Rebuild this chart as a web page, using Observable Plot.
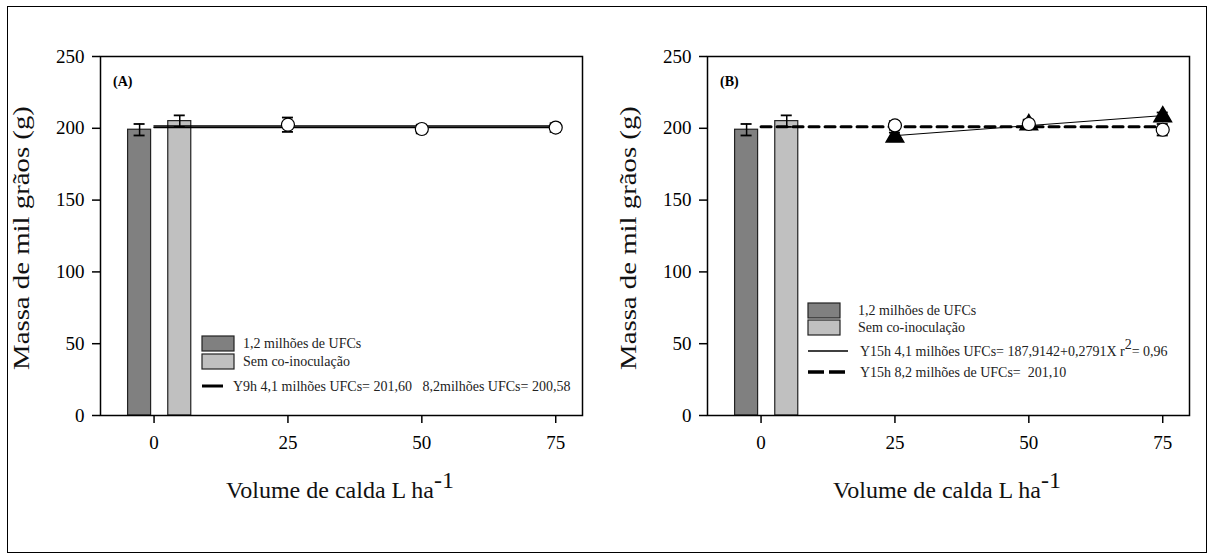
<!DOCTYPE html>
<html><head><meta charset="utf-8">
<script src="https://cdn.jsdelivr.net/npm/d3@7"></script>
<script src="https://cdn.jsdelivr.net/npm/@observablehq/plot@0.6"></script>
<style>
html,body{margin:0;padding:0;background:#fff;}
#wrap{position:relative;width:1214px;height:559px;overflow:hidden;}
#border{position:absolute;left:7px;top:6px;width:1200px;height:547px;border:1.5px solid #000;box-sizing:border-box;}
#pa,#pb{position:absolute;top:0;}
#pa{left:0px} #pb{left:607px}
#wrap svg, #wrap svg text, #wrap svg tspan{font-family:"Liberation Serif","Times New Roman",serif !important;}
</style></head><body>
<div id="wrap"><div id="border"></div><div id="pa"></div><div id="pb"></div></div>
<script>
// ---- data ----
const volumes = [25, 50, 75];
const volumeTicks = [0, 25, 50, 75];
const massTicks = [0, 50, 100, 150, 200, 250];
const barNames = ["1,2 milhões de UFCs", "Sem co-inoculação"];
const barMass = [199, 205];
const barErr = [4, 4];
const barCenter = [-2.7, 4.8];
const barFill = ["#808080", "#c0c0c0"];

// panel A
const aOpen = [202.5, 199.5, 200.5];
const aOpenErr = [5, 3, 3];
const aFits = [201.60, 200.58];
const fitRange = [0, 75];

// panel B
const bOpen = [202, 203, 199];
const bOpenErr = [3, 3, 4];
const bTri = [194, 202.5, 208];
const bTriErr = [3, 3, 3];
const bRegA = 187.9142, bRegB = 0.2791;
const bRegRange = [25, 75];
const bMean = 201.10;

const SERIF = '"Liberation Serif", "Times New Roman", serif';
const bars = barNames.map((n, i) => ({name: n, c: barCenter[i], m: barMass[i], e: barErr[i], fill: barFill[i]}));
const pts = (ys, es) => volumes.map((v, i) => ({x: v, y: ys[i], e: es[i]}));

function errMarks(data, xk) {
  return [
    Plot.ruleX(data, {x: xk, y1: d => d.y - d.e, y2: d => d.y + d.e, stroke: "black", strokeWidth: 1.5}),
    Plot.ruleY(data, {x1: xk, x2: xk, y: d => d.y + d.e, insetLeft: -5.5, insetRight: -5.5, stroke: "black", strokeWidth: 1.8}),
    Plot.ruleY(data, {x1: xk, x2: xk, y: d => d.y - d.e, insetLeft: -5.5, insetRight: -5.5, stroke: "black", strokeWidth: 1.8})
  ];
}

function basePlot(marks) {
  return Plot.plot({
    width: 607, height: 559,
    marginLeft: 100, marginRight: 25, marginTop: 56, marginBottom: 144,
    style: {fontFamily: SERIF, fontSize: "19px", background: "transparent", color: "black", overflow: "visible"},
    x: {domain: [-10, 80]},
    y: {domain: [0, 250]},
    marks: [
      Plot.axisX({ticks: volumeTicks, tickSize: 8, tickPadding: 12, label: null, strokeWidth: 1.5, fontSize: 19, fontFamily: SERIF}),
      Plot.axisY({ticks: massTicks, tickSize: 8, tickPadding: 8, label: null, strokeWidth: 1.5, fontSize: 19, fontFamily: SERIF}),
      Plot.rectY(bars, {x1: "c", x2: "c", y1: 0, y2: "m", insetLeft: -11.5, insetRight: -11.5, fill: "fill", stroke: "#222", strokeWidth: 1.2}),
      ...errMarks(bars.map(b => ({x: b.c, y: b.m, e: b.e})), "x"),
      ...marks,
      Plot.frame({stroke: "black", strokeWidth: 1.5})
    ]
  });
}

// Panel A
const plotA = basePlot([
  ...aFits.map(f => Plot.line(fitRange.map(x => ({x, y: f})), {x: "x", y: "y", stroke: "black", strokeWidth: 1.6})),
  ...errMarks(pts(aOpen, aOpenErr), "x"),
  Plot.dot(pts(aOpen, aOpenErr), {x: "x", y: "y", r: 6.5, fill: "white", stroke: "black", strokeWidth: 1.2})
]);
document.getElementById("pa").appendChild(plotA);

// Panel B
const plotB = basePlot([
  Plot.line(fitRange.map(x => ({x, y: bMean})), {x: "x", y: "y", stroke: "black", strokeWidth: 3, strokeDasharray: "10,6"}),
  Plot.line(bRegRange.map(x => ({x, y: bRegA + bRegB * x})), {x: "x", y: "y", stroke: "black", strokeWidth: 1}),
  ...errMarks(pts(bTri, bTriErr), "x"),
  Plot.dot(pts(bTri, bTriErr), {x: "x", y: "y", r: 6.5, symbol: "triangle", fill: "black", stroke: "black"}),
  ...errMarks(pts(bOpen, bOpenErr), "x"),
  Plot.dot(pts(bOpen, bOpenErr), {x: "x", y: "y", r: 6.5, fill: "white", stroke: "black", strokeWidth: 1.2})
]);
document.getElementById("pb").appendChild(plotB);

// ---- titles and legends ----
function decorate(svgNode, panelLabel, legend) {
  const svg = d3.select(svgNode).attr("font-family", SERIF);
  svg.append("text").attr("x", 113).attr("y", 86).attr("text-anchor", "start").attr("font-size", 14).attr("font-weight", "bold").text(panelLabel);
  svg.append("text").attr("transform", "translate(29,238) rotate(-90) scale(1.2,1)").attr("text-anchor", "middle")
    .attr("font-size", 24).attr("fill", "#111").text("Massa de mil grãos (g)");
  const xt = svg.append("text").attr("x", 340).attr("y", 498).attr("text-anchor", "middle").attr("font-size", 24).attr("fill", "#111");
  xt.append("tspan").text("Volume de calda L ha");
  xt.append("tspan").attr("dy", -10).text("-1");
  const lg = svg.append("g").attr("font-size", 14).attr("text-anchor", "start").attr("fill", "#222");
  legend.rows.forEach(r => {
    if (r.type === "box") {
      lg.append("rect").attr("x", legend.x0).attr("y", r.y - 7).attr("width", 32).attr("height", 15).attr("fill", r.fill).attr("stroke", "#222").attr("stroke-width", 1.2);
    } else {
      lg.append("line").attr("x1", legend.x0).attr("x2", legend.x0 + r.len).attr("y1", r.y).attr("y2", r.y).attr("stroke", "black")
        .attr("stroke-width", r.w).attr("stroke-dasharray", r.dash || null);
    }
    const t = lg.append("text").attr("x", r.tx).attr("y", r.y + 5);
    r.parts.forEach(p => { const s = t.append("tspan").text(p.t); if (p.dy) s.attr("dy", p.dy); });
  });
}

decorate(plotA, "(A)", {x0: 202, rows: [
  {type: "box", y: 343, fill: barFill[0], tx: 243, parts: [{t: barNames[0]}]},
  {type: "box", y: 361, fill: barFill[1], tx: 243, parts: [{t: barNames[1]}]},
  {type: "line", y: 386, len: 21, w: 3, tx: 233, parts: [{t: "Y9h 4,1 milhões UFCs= 201,60\u00a0\u00a0\u00a08,2milhões UFCs= 200,58"}]}
]});
decorate(plotB, "(B)", {x0: 201, rows: [
  {type: "box", y: 310, fill: barFill[0], tx: 251, parts: [{t: barNames[0]}]},
  {type: "box", y: 327, fill: barFill[1], tx: 251, parts: [{t: barNames[1]}]},
  {type: "line", y: 351, len: 40, w: 1.5, tx: 253, parts: [{t: "Y15h 4,1 milhões UFCs= 187,9142+0,2791X r"}, {t: "2", dy: -7}, {t: "= 0,96", dy: 7}]},
  {type: "line", y: 372, len: 37, w: 3.5, dash: "16,5", tx: 253, parts: [{t: "Y15h 8,2 milhões de UFCs=\u00a0 201,10"}]}
]});
</script>
</body></html>
